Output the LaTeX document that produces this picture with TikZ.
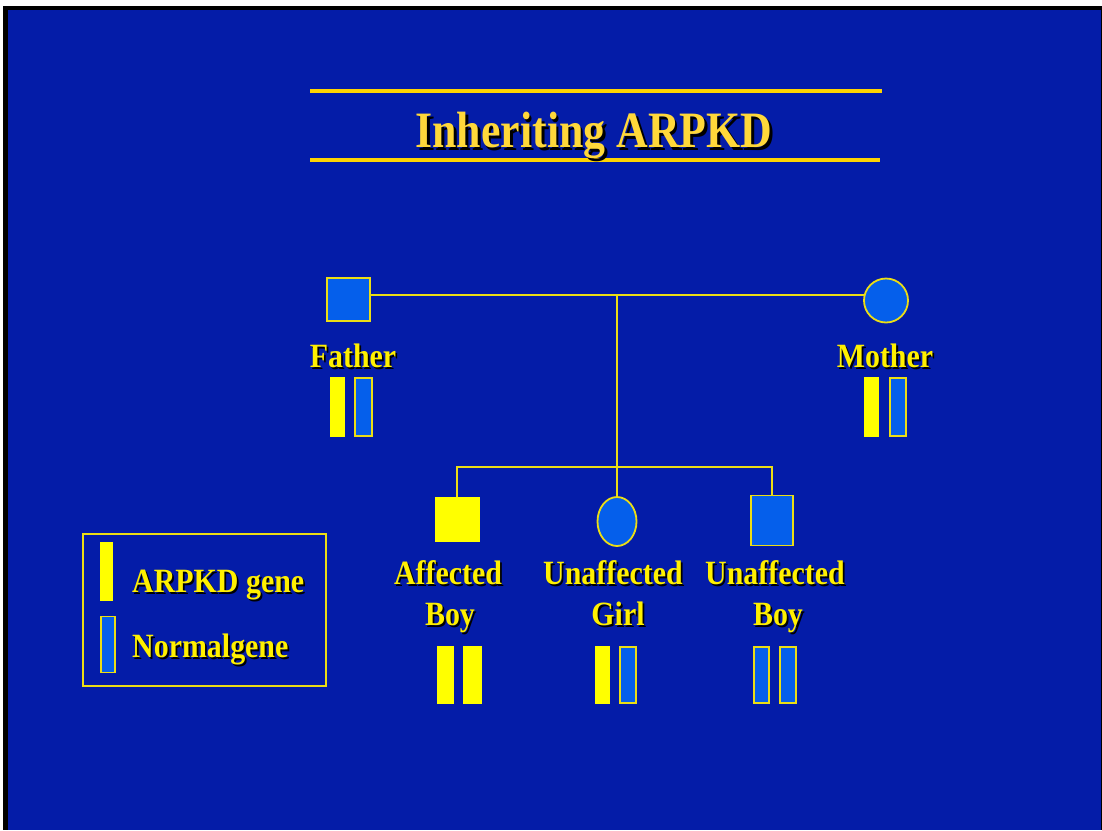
\documentclass[tikz,border=0pt]{standalone}
\usepackage{fontspec}
\setmainfont{Liberation Serif}
\usepackage{graphicx}
\usetikzlibrary{shapes.geometric}
\definecolor{slide}{RGB}{4,28,168}
\definecolor{cellblue}{RGB}{5,95,235}
\definecolor{lineyel}{RGB}{236,222,20}
\definecolor{genyel}{RGB}{255,255,0}
\definecolor{txtyel}{RGB}{255,240,0}
\definecolor{titleyel}{RGB}{255,216,58}
\definecolor{rulegold}{RGB}{255,212,0}

% text with a black drop shadow
\newcommand\shadowed[2][2pt]{\makebox[0pt][l]{\hspace*{#1}\raisebox{-#1}{\color{black}#2}}#2}
\newcommand\lbl[1]{\scalebox{0.88}[1]{\shadowed{#1}}}

\tikzset{
  member/.style={draw=lineyel, line width=1.8pt, fill=cellblue, inner sep=0pt, outer sep=0pt},
  malebox/.style={member, rectangle},
  femalecirc/.style={member, ellipse},
  affected/.style={fill=genyel, draw=genyel, line width=0.5pt},
  badgene/.style={rectangle, fill=genyel, draw=none, inner sep=0pt, outer sep=0pt, minimum height=60pt},
  goodgene/.style={rectangle, fill=cellblue, draw=lineyel, line width=1.8pt, inner sep=0pt, outer sep=0pt, minimum height=58pt},
  tag/.style={text=txtyel, font=\bfseries\fontsize{34}{40}\selectfont, inner sep=0pt, anchor=base},
  kin/.style={draw=lineyel, line width=1.8pt},
}

\begin{document}
\begin{tikzpicture}[x=1pt, y=-1pt]
\useasboundingbox (0,0) rectangle (1102,830);
% frame and slide background
\fill[white] (0,0) rectangle (1102,830);
\fill[black] (3,6) rectangle (1102,830);
\fill[slide] (8,10) rectangle (1101,830);

% title with rules
\draw[rulegold, line width=3.5pt] (310,91) -- (882,91);
\draw[rulegold, line width=3.5pt] (310,160) -- (880,160);
\node[text=titleyel, font=\bfseries\fontsize{51}{60}\selectfont, inner sep=0pt, anchor=base] (title) at (594,147)
  {\scalebox{0.86}[1]{\shadowed[3pt]{Inheriting ARPKD}}};

% parents
\node[malebox, minimum width=43pt, minimum height=43pt] (father) at (348.5,299.5) {};
\node[femalecirc, minimum width=44pt, minimum height=44pt] (mother) at (886,300.5) {};
\coordinate (mate) at (617,295);
\draw[kin] (father.east |- mate) -- (mate) -- (mate -| mother.west);

% children
\node[malebox, affected, minimum width=44pt, minimum height=44pt] (boyA) at (457,519) {};
\node[femalecirc, minimum width=39pt, minimum height=49pt] (girl) at (617,521.5) {};
\node[malebox, minimum width=42pt, minimum height=50pt] (boyU) at (772,520.5) {};

\coordinate (sib) at (617,467);
\draw[kin] (mate) -- (girl.north);
\draw[kin] (boyA.north) -- (boyA.north |- sib) -- (boyU.north |- sib) -- (boyU.north);

% labels
\node[tag] (lfather) at (353,367) {\lbl{Father}};
\node[tag] (lmother) at (885,367) {\lbl{Mother}};
\node[tag] (laff1) at (448,584) {\lbl{Affected}};
\node[tag] (laff2) at (450,625) {\lbl{Boy}};
\node[tag] (lgirl1) at (613,584) {\lbl{Unaffected}};
\node[tag] (lgirl2) at (618,625) {\lbl{Girl}};
\node[tag] (lboy1) at (775,584) {\lbl{Unaffected}};
\node[tag] (lboy2) at (778,625) {\lbl{Boy}};

% gene pairs
\node[badgene, minimum width=15pt] (fg1) at (337.5,407) {};
\node[goodgene, minimum width=17pt] (fg2) at (363.5,407) {};
\node[badgene, minimum width=15pt] (mg1) at (871.5,407) {};
\node[goodgene, minimum width=16pt] (mg2) at (898,407) {};

\node[badgene, minimum width=17pt, minimum height=58pt] (ag1) at (445.5,675) {};
\node[badgene, minimum width=19pt, minimum height=58pt] (ag2) at (472.5,675) {};
\node[badgene, minimum width=15pt, minimum height=58pt] (gg1) at (602.5,675) {};
\node[goodgene, minimum width=16pt, minimum height=56pt] (gg2) at (628,675) {};
\node[goodgene, minimum width=15pt, minimum height=56pt] (ug1) at (761.5,675) {};
\node[goodgene, minimum width=16pt, minimum height=56pt] (ug2) at (788,675) {};

% key
\node[draw=lineyel, line width=1.8pt, rectangle, inner sep=0pt, minimum width=243pt, minimum height=152pt] (key) at (204.5,610) {};
\node[badgene, minimum width=13pt, minimum height=59pt] (keybad) at (106.5,571.5) {};
\node[goodgene, minimum width=14pt, minimum height=56pt] (keygood) at (108,644.5) {};
\node[tag, anchor=base west] (keybadtxt) at (132,592) {\lbl{ARPKD gene}};
\node[tag, anchor=base west] (keygoodtxt) at (132,657) {\lbl{Normalgene}};
\end{tikzpicture}
\end{document}
